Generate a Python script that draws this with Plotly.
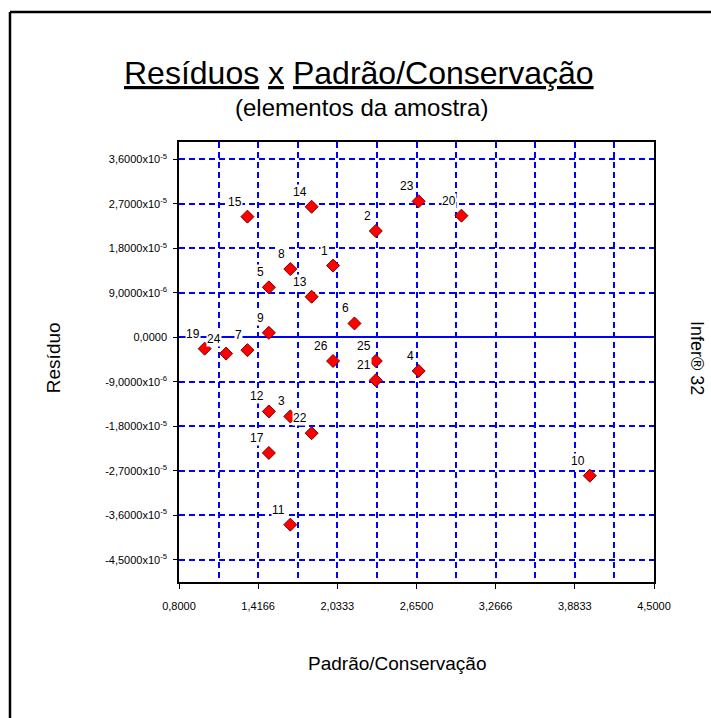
import plotly.graph_objects as go

# Residuals of each sample element against the Padrão/Conservação variable
labels = ["1", "2", "3", "4", "5", "6", "7", "8", "9", "10", "11", "12", "13",
          "14", "15", "17", "19", "20", "21", "22", "23", "24", "25", "26"]
padrao = [2.000, 2.333, 1.667, 2.667, 1.500, 2.167, 1.333, 1.667, 1.500, 4.000,
          1.667, 1.500, 1.833, 1.833, 1.333, 1.500, 1.000, 3.000, 2.333, 1.833,
          2.667, 1.167, 2.333, 2.000]
residuo = [14.5e-6, 21.5e-6, -16.0e-6, -6.8e-6, 10.1e-6, 2.8e-6, -2.6e-6, 13.8e-6,
           0.9e-6, -28.0e-6, -37.9e-6, -15.0e-6, 8.2e-6, 26.4e-6, 24.4e-6,
           -23.4e-6, -2.3e-6, 24.6e-6, -8.7e-6, -19.4e-6, 27.5e-6, -3.3e-6,
           -4.8e-6, -4.8e-6]

x_ticks = [0.8, 1.416667, 2.033333, 2.65, 3.266667, 3.883333, 4.5]
x_ticktext = ["0,8000", "1,4166", "2,0333", "2,6500", "3,2666", "3,8833", "4,5000"]
y_ticks = [36e-6, 27e-6, 18e-6, 9e-6, 0.0, -9e-6, -18e-6, -27e-6, -36e-6, -45e-6]
y_ticktext = ["3,6000x10<sup>-5</sup>", "2,7000x10<sup>-5</sup>", "1,8000x10<sup>-5</sup>",
              "9,0000x10<sup>-6</sup>", "0,0000", "-9,0000x10<sup>-6</sup>",
              "-1,8000x10<sup>-5</sup>", "-2,7000x10<sup>-5</sup>",
              "-3,6000x10<sup>-5</sup>", "-4,5000x10<sup>-5</sup>"]

FONT = "Liberation Sans, Arial, sans-serif"
BLUE = "#0000FF"

fig = go.Figure()
fig.add_trace(go.Scatter(
    x=padrao, y=residuo, mode="markers",
    marker=dict(symbol="diamond", size=10, color="#FF0000",
                line=dict(color="#7A0000", width=1)),
    hoverinfo="skip", showlegend=False,
))

# point labels with a white box, sitting above-left of each point
for lab, xv, yv in zip(labels, padrao, residuo):
    fig.add_annotation(x=xv, y=yv, text=lab, showarrow=False,
                       xanchor="right", yanchor="bottom", xshift=-4, yshift=7,
                       bgcolor="white", borderpad=0,
                       font=dict(family=FONT, size=12, color="black"))

grid = dict(showgrid=True, gridcolor=BLUE, gridwidth=1.5, griddash="6px,4px")

fig.update_xaxes(
    range=[0.8, 4.5], tickvals=x_ticks, ticktext=x_ticktext,
    ticks="outside", ticklen=5, tickcolor="black", tickwidth=1,
    ticklabelstandoff=8,
    tickfont=dict(family=FONT, size=11, color="black"),
    showline=True, linecolor="black", linewidth=1.5, mirror=True,
    zeroline=False,
    minor=dict(tick0=0.8, dtick=0.3083333, **grid),
    **grid,
)
fig.update_yaxes(
    range=[-49.5e-6, 39.5e-6], tickvals=y_ticks, ticktext=y_ticktext,
    ticks="outside", ticklen=4, tickcolor="black", tickwidth=1,
    ticklabelstandoff=4,
    tickfont=dict(family=FONT, size=11, color="black"),
    showline=True, linecolor="black", linewidth=1.5, mirror=True,
    zeroline=True, zerolinecolor=BLUE, zerolinewidth=2,
    **grid,
)

# titles and side texts
fig.add_annotation(xref="paper", yref="paper", x=0.379, y=1.157,
                   text="<u>Resíduos</u> <u>x</u> <u>Padrão/Conservação</u>",
                   showarrow=False, xanchor="center", yanchor="middle",
                   font=dict(family=FONT, size=32, color="black"))
fig.add_annotation(xref="paper", yref="paper", x=0.384, y=1.0775,
                   text="(elementos da amostra)", showarrow=False,
                   xanchor="center", yanchor="middle",
                   font=dict(family=FONT, size=24, color="black"))
fig.add_annotation(xref="paper", yref="paper", x=-0.265, y=0.509,
                   text="Resíduo", textangle=-90, showarrow=False,
                   xanchor="center", yanchor="middle",
                   font=dict(family=FONT, size=19, color="black"))
fig.add_annotation(xref="paper", yref="paper", x=0.461, y=-0.186,
                   text="Padrão/Conservação", showarrow=False,
                   xanchor="center", yanchor="middle",
                   font=dict(family=FONT, size=19, color="black"))
fig.add_annotation(xref="paper", yref="paper", x=1.0905, y=0.509,
                   text="Infer® 32", textangle=90, showarrow=False,
                   xanchor="center", yanchor="middle",
                   font=dict(family=FONT, size=18, color="black"))

# outer frame (left and top edges)
fig.add_shape(type="line", xref="paper", yref="paper",
              x0=-0.3558, x1=-0.3558, y0=-0.5, y1=1.2955,
              line=dict(color="black", width=2.5))
fig.add_shape(type="line", xref="paper", yref="paper",
              x0=-0.3558, x1=1.3, y0=1.2955, y1=1.2955,
              line=dict(color="black", width=2.5))

fig.update_layout(
    width=711, height=718, autosize=False,
    margin=dict(l=179, r=57, t=142, b=136),
    paper_bgcolor="white", plot_bgcolor="white",
    font=dict(family=FONT, color="black"),
)

fig.write_html("out.html")
